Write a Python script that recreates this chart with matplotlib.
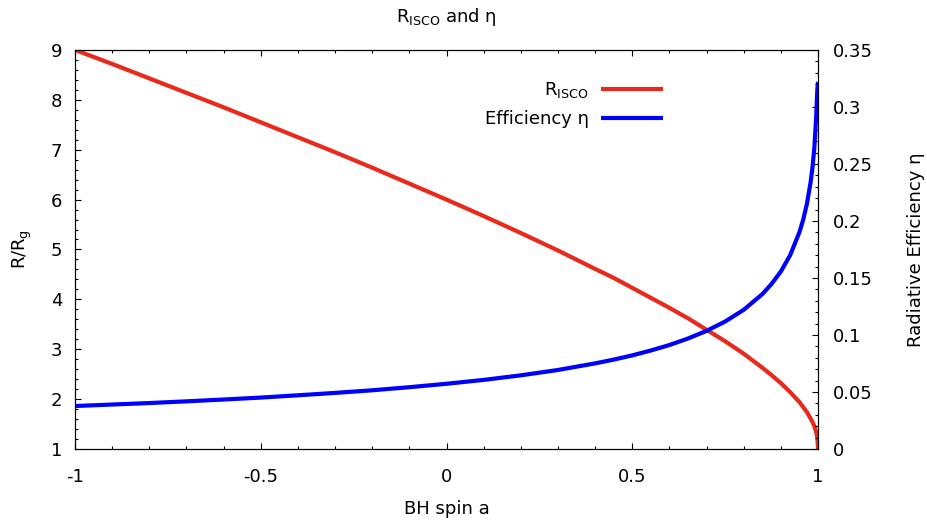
import matplotlib
matplotlib.use("Agg")
import matplotlib.pyplot as plt
from matplotlib.ticker import MultipleLocator, FixedLocator, FixedFormatter

plt.rcParams['font.family'] = 'DejaVu Sans'
plt.rcParams['axes.unicode_minus'] = False

# values
spin = [-1.0, -0.9, -0.8, -0.7, -0.6, -0.5, -0.4, -0.3, -0.2, -0.1, 0.0,
        0.1, 0.2, 0.3, 0.4, 0.45, 0.5, 0.55, 0.6, 0.65, 0.7, 0.75, 0.8, 0.85,
        0.875, 0.9, 0.925, 0.95, 0.96, 0.97, 0.98, 0.985, 0.99, 0.995, 0.998, 1.0]
r_isco = [9.0, 8.72, 8.43, 8.14, 7.85, 7.55, 7.25, 6.95, 6.64, 6.32, 6.0,
          5.67, 5.33, 4.98, 4.61, 4.43, 4.23, 4.03, 3.83, 3.62, 3.39, 3.16, 2.91, 2.63,
          2.48, 2.32, 2.14, 1.94, 1.84, 1.74, 1.61, 1.54, 1.46, 1.34, 1.24, 1.0]
eta = [0.0377, 0.0390, 0.0403, 0.0418, 0.0434, 0.0451, 0.0471, 0.0492, 0.0515, 0.0542, 0.0572,
       0.0606, 0.0646, 0.0693, 0.0751, 0.0784, 0.0821, 0.0864, 0.0912, 0.0969, 0.1036, 0.1118, 0.1221, 0.1358,
       0.1448, 0.1557, 0.1700, 0.1902, 0.2011, 0.2149, 0.2339, 0.2467, 0.2639, 0.2908, 0.3150, 0.3220]

xticks = [-1, -0.5, 0, 0.5, 1]
xticklabels = ['-1', '-0.5', '0', '0.5', '1']
yticks = [1, 2, 3, 4, 5, 6, 7, 8, 9]
y2ticks = [0, 0.05, 0.1, 0.15, 0.2, 0.25, 0.3, 0.35]
y2ticklabels = ['0', '0.05', '0.1', '0.15', '0.2', '0.25', '0.3', '0.35']

red = '#e8291c'
blue = '#0000ff'
fs = 13

fig = plt.figure(figsize=(9.28, 5.23), dpi=100)
ax = fig.add_axes([0.0808, 0.1415, 0.8007, 0.763])
ax2 = ax.twinx()

l1, = ax.plot(spin, r_isco, color=red, lw=3, solid_capstyle='butt', solid_joinstyle='round')
l2, = ax2.plot(spin, eta, color=blue, lw=3, solid_capstyle='butt', solid_joinstyle='round')

ax.set_xlim(-1, 1)
ax.set_ylim(1, 9)
ax2.set_ylim(0, 0.35)

ax.xaxis.set_major_locator(FixedLocator(xticks))
ax.xaxis.set_major_formatter(FixedFormatter(xticklabels))
ax.xaxis.set_minor_locator(MultipleLocator(0.1))
ax.yaxis.set_major_locator(FixedLocator(yticks))
ax.yaxis.set_minor_locator(MultipleLocator(0.2))
ax2.yaxis.set_major_locator(FixedLocator(y2ticks))
ax2.yaxis.set_major_formatter(FixedFormatter(y2ticklabels))
ax2.yaxis.set_minor_locator(MultipleLocator(0.01))

ax.tick_params(axis='x', which='both', direction='in', top=True, labelsize=fs, pad=13.5)
ax.tick_params(axis='y', which='both', direction='in', right=False, labelsize=fs, pad=9)
ax2.tick_params(axis='y', which='both', direction='in', labelsize=fs, pad=11)
for a in (ax, ax2):
    a.tick_params(which='major', length=4.5, width=0.8)
    a.tick_params(which='minor', length=2.5, width=0.8)
    for s in a.spines.values():
        s.set_linewidth(0.8)

ax.set_xlabel('BH spin a', fontsize=fs, labelpad=10)
ax.set_ylabel(r'R/R$_\mathregular{g}$', fontsize=fs, labelpad=12)
ax2.set_ylabel('Radiative Efficiency η', fontsize=fs, labelpad=24)
ax.set_title(r'R$_\mathregular{ISCO}$ and η', fontsize=fs, pad=20)

ax2.legend([l1, l2], [r'R$_\mathregular{ISCO}$', 'Efficiency η'], loc='upper right',
           bbox_to_anchor=(0.813, 0.965), frameon=False, markerfirst=False,
           fontsize=fs, handlelength=3.4, labelspacing=0.55, handletextpad=0.7)

fig.savefig('out.png', dpi=100)
